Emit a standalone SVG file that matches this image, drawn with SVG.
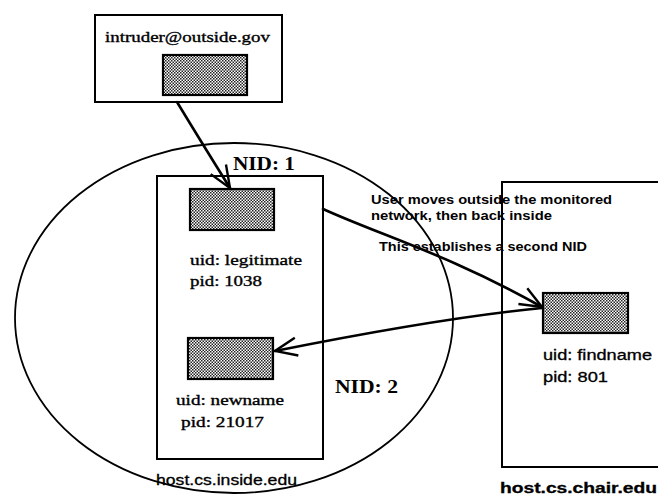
<svg xmlns="http://www.w3.org/2000/svg" width="658" height="502" viewBox="0 0 658 502">
<style>
.box{fill:none;stroke:#000;stroke-width:2}
.proc{fill:url(#dots);stroke:#000;stroke-width:2.2}
.ser{font-family:"Liberation Serif","Times New Roman",serif;font-size:15px;fill:#000;stroke:#000;stroke-width:0.35}
.nid{font-family:"Liberation Serif","Times New Roman",serif;font-size:18px;font-weight:bold;fill:#000}
.sans{font-family:"Liberation Sans",Arial,sans-serif;font-size:14px;fill:#000;stroke:#000;stroke-width:0.3}
.note{font-family:"Liberation Sans",Arial,sans-serif;font-size:13px;font-weight:bold;fill:#000}
.conn{fill:none;stroke:#000;stroke-width:2.6;stroke-linecap:round}
</style>
<defs>
<pattern id="dots" width="3" height="3" patternUnits="userSpaceOnUse">
<rect width="3" height="3" fill="#fff"/>
<rect width="1.5" height="1.5" fill="#222"/>
<rect x="1.5" y="1.5" width="1.5" height="1.5" fill="#222"/>
</pattern>
<marker id="open" markerUnits="userSpaceOnUse" markerWidth="30" markerHeight="30" viewBox="-26 -13 30 26" refX="0" refY="0" orient="auto">
<path d="M-22,-9 L0,0 L-22,9" fill="none" stroke="#000" stroke-width="2.4"/>
</marker>
</defs>

<g id="network">
<ellipse cx="234" cy="318" rx="219" ry="175" fill="none" stroke="#000" stroke-width="1.8"/>
<text class="nid" x="233" y="170" textLength="62" lengthAdjust="spacingAndGlyphs">NID: 1</text>
<text class="nid" x="335" y="393" textLength="63" lengthAdjust="spacingAndGlyphs">NID: 2</text>
</g>

<g id="outside-host">
<rect class="box" x="95" y="15" width="187" height="87"/>
<text class="ser" x="105" y="42" textLength="165" lengthAdjust="spacingAndGlyphs">intruder@outside.gov</text>
<rect id="proc-intruder" class="proc" x="163" y="55" width="84" height="40"/>
</g>

<g id="inside-host">
<rect class="box" x="157" y="176" width="166" height="283"/>
<text class="sans" x="156" y="485" textLength="141" lengthAdjust="spacingAndGlyphs" font-size="15">host.cs.inside.edu</text>
</g>

<g id="proc-legitimate">
<rect class="proc" x="190" y="189" width="84" height="41"/>
<text class="ser" x="190" y="265" textLength="112" lengthAdjust="spacingAndGlyphs">uid: legitimate</text>
<text class="ser" x="190" y="286" textLength="72" lengthAdjust="spacingAndGlyphs">pid: 1038</text>
</g>

<g id="proc-newname">
<rect class="proc" x="188" y="338" width="85" height="41"/>
<text class="ser" x="176" y="405" textLength="108" lengthAdjust="spacingAndGlyphs">uid: newname</text>
<text class="ser" x="181" y="427" textLength="83" lengthAdjust="spacingAndGlyphs">pid: 21017</text>
</g>

<g id="chair-host">
<path class="box" d="M660,182 H502 V467 H660"/>
<text class="sans" x="500" y="493" textLength="157" lengthAdjust="spacingAndGlyphs" font-weight="bold">host.cs.chair.edu</text>
</g>

<g id="proc-findname">
<rect class="proc" x="543" y="293" width="85" height="40"/>
<text class="sans" x="543" y="360" textLength="109" lengthAdjust="spacingAndGlyphs">uid: findname</text>
<text class="sans" x="543" y="382" textLength="65" lengthAdjust="spacingAndGlyphs">pid: 801</text>
</g>

<g id="note">
<text class="note" x="371" y="204" textLength="241" lengthAdjust="spacingAndGlyphs">User moves outside the monitored</text>
<text class="note" x="371" y="220" textLength="181" lengthAdjust="spacingAndGlyphs">network, then back inside</text>
<text class="note" x="379" y="251" textLength="208" lengthAdjust="spacingAndGlyphs">This establishes a second NID</text>
</g>

<g id="connectors">
<path class="conn" d="M177,102 Q200,140 230,188" marker-end="url(#open)"/>
<path class="conn" d="M323,209 C380,235 450,255 542,307" marker-end="url(#open)"/>
<path class="conn" d="M542,308 C480,314 380,330 275,351" marker-end="url(#open)"/>
</g>
</svg>
